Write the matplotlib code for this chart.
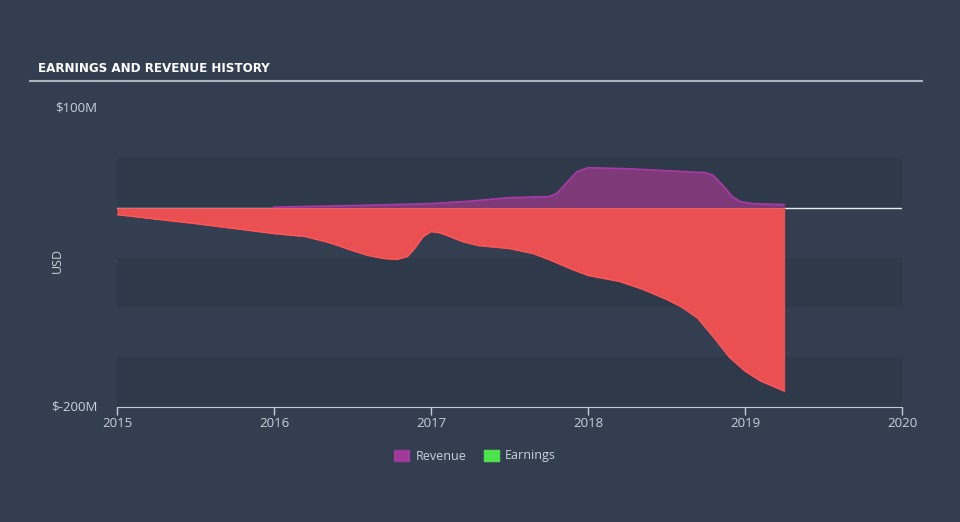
import matplotlib
matplotlib.use('Agg')
import matplotlib.pyplot as plt
from matplotlib.patches import Patch

# Earnings (USD millions)
earn_x = [2015.0, 2015.5, 2016.0, 2016.2, 2016.35, 2016.5, 2016.6, 2016.7, 2016.78,
          2016.85, 2016.9, 2016.95, 2017.0, 2017.05, 2017.12, 2017.2, 2017.3, 2017.5,
          2017.65, 2017.75, 2017.9, 2018.0, 2018.2, 2018.35, 2018.5, 2018.6, 2018.7,
          2018.8, 2018.9, 2019.0, 2019.1, 2019.25]
earn_y = [-7, -16, -26, -29, -35, -43, -48, -51, -52,
          -49, -40, -29, -24, -25, -29, -34, -38, -41,
          -46, -52, -62, -68, -74, -82, -92, -100, -111,
          -130, -150, -164, -174, -184]

# Revenue (USD millions)
rev_x = [2016.0, 2016.5, 2017.0, 2017.25, 2017.5, 2017.75, 2017.8, 2017.87, 2017.93,
         2018.0, 2018.25, 2018.5, 2018.75, 2018.8, 2018.86, 2018.92, 2018.97, 2019.05, 2019.25]
rev_y = [0.5, 2, 4, 6.5, 10, 11, 14, 26, 36,
         40, 39, 37, 35, 32, 22, 11, 6, 4, 3]

year_ticks = [2015, 2016, 2017, 2018, 2019, 2020]
y_ticks = [100, -200]
y_tick_labels = ['$100M', '$-200M']

bg = '#333f50'
band = '#2e3a4a'
txt = '#c9d1da'

fig = plt.figure(figsize=(9.6, 5.22), dpi=100, facecolor=bg)
ax = fig.add_axes([117 / 960, 1 - 407 / 522, 785 / 960, 299 / 522])
ax.set_facecolor(bg)

# horizontal bands
for lo in [0, -100, -200]:
    ax.axhspan(lo, lo + 50, color=band, lw=0, zorder=0)

# zero line
ax.axhline(0, color='#e6e9ee', lw=1, zorder=1)

ax.fill_between(rev_x, 0, rev_y, color='#7d3978', lw=0, zorder=2)
ax.plot(rev_x, rev_y, color='#a83aa4', lw=1.3, zorder=3)
ax.fill_between(earn_x, 0, earn_y, color='#ea4f52', lw=0, zorder=2)
ax.plot(earn_x, earn_y, color='#ff5658', lw=1, zorder=3)
ax.plot([earn_x[-1], earn_x[-1]], [0, earn_y[-1]], color='#ea4f52', lw=1, zorder=3)

ax.set_xlim(2015, 2020)
ax.set_ylim(-200, 100)
ax.set_xticks(year_ticks)
ax.set_xticklabels([str(y) for y in year_ticks], fontsize=9.5, color=txt, family='Open Sans')
ax.set_yticks(y_ticks)
ax.set_yticklabels(y_tick_labels, fontsize=9.5, color=txt, family='Open Sans')
ax.tick_params(axis='x', colors='#c0cad6', length=6, width=1, pad=1, labelcolor=txt)
ax.tick_params(axis='y', length=0, pad=14, labelcolor=txt)
for lbl in ax.get_yticklabels():
    lbl.set_va('center')
for s in ['top', 'right', 'left']:
    ax.spines[s].set_visible(False)
ax.spines['bottom'].set_color('#c0cad6')
ax.set_ylabel('USD', color=txt, fontsize=9, family='Open Sans', labelpad=30)
ax.yaxis.set_label_coords(-0.068, 0.49)

# title and underline
fig.text(38 / 960, 1 - 68 / 522, 'EARNINGS AND REVENUE HISTORY', color='white',
         fontsize=9.5, fontweight='bold', stretch='condensed',
         family=['DejaVu Sans Condensed', 'Liberation Sans Narrow', 'DejaVu Sans'],
         va='center', ha='left')
fig.add_artist(plt.Line2D([30 / 960, 922 / 960], [1 - 81 / 522, 1 - 81 / 522],
                          color='#aab2bd', lw=1.5))

handles = [Patch(color='#a0399a', label='Revenue'), Patch(color='#4ee14e', label='Earnings')]
leg = fig.legend(handles=handles, loc='center', bbox_to_anchor=(475 / 960, 1 - 456 / 522),
                 ncol=2, frameon=False, handlelength=1.2, handleheight=1.0,
                 columnspacing=1.4, handletextpad=0.5,
                 prop={'family': 'Open Sans', 'size': 9})
for t in leg.get_texts():
    t.set_color(txt)

fig.savefig('out.png', dpi=100, facecolor=bg)
